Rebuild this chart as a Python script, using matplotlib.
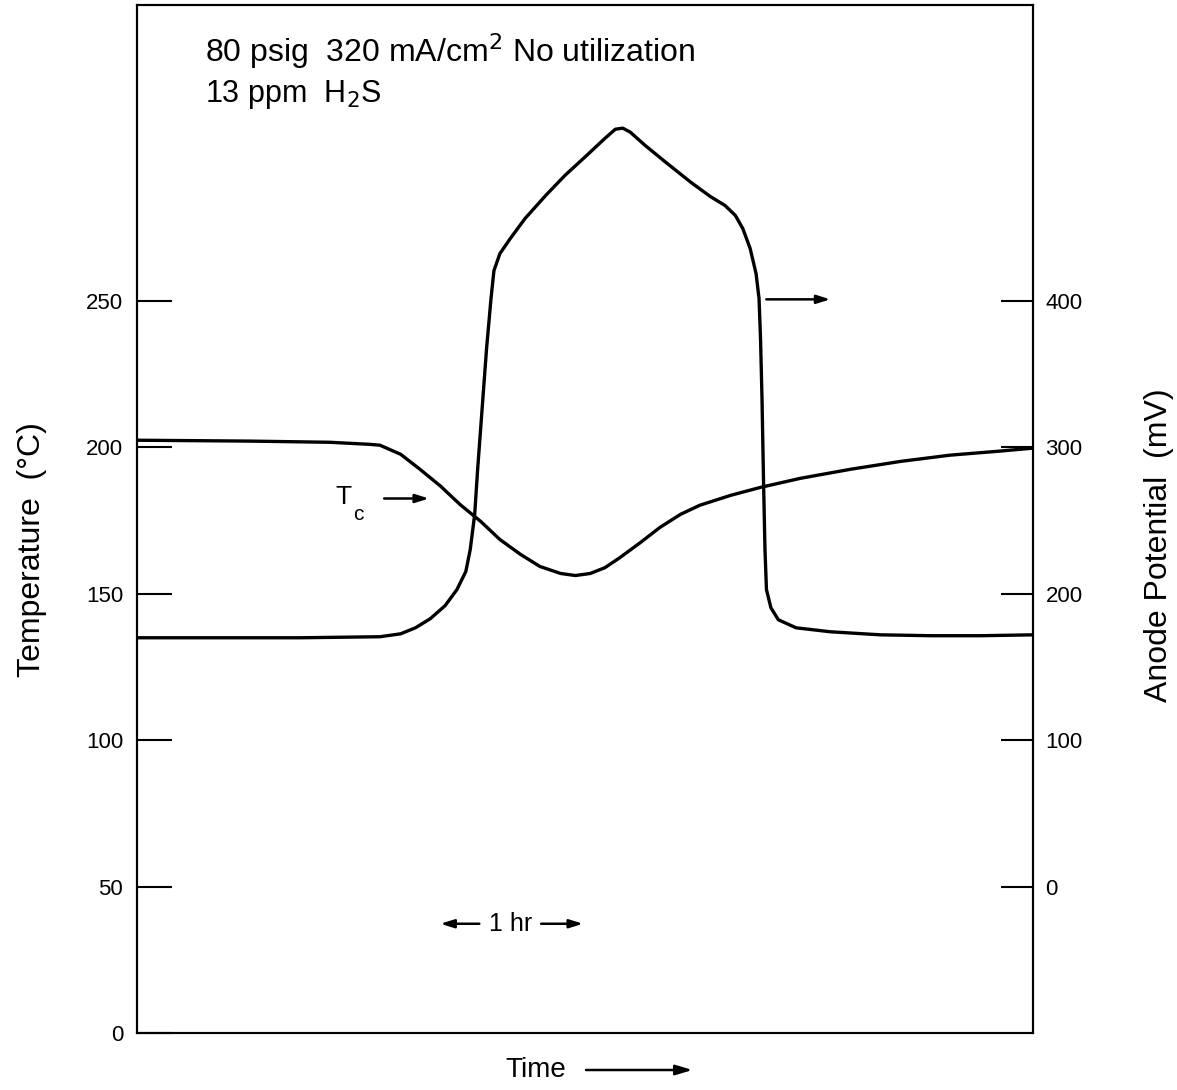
import matplotlib.pyplot as plt

plt.rcParams['font.family'] = ['Liberation Sans', 'DejaVu Sans']

# cell temperature Tc (left axis, deg C), time in hours
t_temp = [0.0, 0.76, 1.30, 1.57, 1.64, 1.78, 1.91, 2.05, 2.18, 2.32, 2.45, 2.59, 2.72,
          2.86, 2.96, 3.06, 3.16, 3.26, 3.40, 3.53, 3.67, 3.80, 4.01, 4.21, 4.48, 4.82,
          5.16, 5.49, 5.83, 6.05]
temp = [202.4, 202.1, 201.7, 201.0, 200.7, 197.6, 192.5, 186.7, 180.5, 174.7, 168.5,
        163.4, 159.3, 156.9, 156.2, 156.9, 158.9, 162.3, 167.5, 172.6, 177.1, 180.2,
        183.6, 186.3, 189.4, 192.5, 195.2, 197.3, 198.7, 199.7]

# anode potential (right axis, mV)
t_pot = [0.0, 1.10, 1.64, 1.78, 1.88, 1.98, 2.08, 2.16, 2.22, 2.25, 2.28, 2.30, 2.33,
         2.36, 2.39, 2.41, 2.45, 2.52, 2.62, 2.76, 2.89, 3.03, 3.16, 3.23, 3.28, 3.33,
         3.43, 3.57, 3.74, 3.87, 3.97, 4.04, 4.09, 4.14, 4.18, 4.20, 4.21, 4.22, 4.23,
         4.24, 4.25, 4.28, 4.33, 4.45, 4.68, 5.02, 5.36, 5.70, 6.05]
pot = [169.9, 169.9, 170.6, 172.6, 176.7, 182.9, 191.8, 202.8, 215.1, 230.2, 254.1,
       285.0, 326.1, 367.2, 401.4, 420.6, 432.2, 442.5, 456.2, 472.0, 485.7, 498.7,
       511.0, 517.2, 517.9, 515.2, 506.2, 494.6, 480.9, 471.3, 465.1, 458.3, 449.4,
       435.7, 418.5, 401.4, 374.0, 332.9, 278.1, 230.2, 202.8, 190.4, 182.2, 176.7,
       174.0, 171.9, 171.3, 171.3, 171.9]

fig = plt.figure(figsize=(11.77, 10.9), dpi=100)
ax = fig.add_axes([0.1164, 0.0523, 0.7613, 0.9431])
ax2 = ax.twinx()

ax.plot(t_temp, temp, color='black', lw=2.4, solid_joinstyle='round')
ax2.plot(t_pot, pot, color='black', lw=2.4, solid_joinstyle='round')

ax.set_xlim(0, 6.05)
ax.set_ylim(0, 351)
ax2.set_ylim(-100, 602)
ax.set_xticks([])
ax.set_yticks([0, 50, 100, 150, 200, 250])
ax2.set_yticks([0, 100, 200, 300, 400])
ax.tick_params(axis='y', direction='in', length=25, width=1.5, pad=10, labelsize=16)
ax2.tick_params(axis='y', direction='in', length=23, width=1.5, pad=9, labelsize=16)
for a in (ax, ax2):
    for s in a.spines.values():
        s.set_linewidth(1.5)

ax.set_ylabel('Temperature  (°C)', fontsize=23)
ax.yaxis.set_label_coords(-0.100, 0.47)
ax2.set_ylabel('Anode Potential  (mV)', fontsize=23)
ax2.yaxis.set_label_coords(1.124, 0.475)

ax.text(0.076, 0.955, '80 psig  320 mA/cm$^2$ No utilization', transform=ax.transAxes,
        fontsize=23, va='center')
ax.text(0.076, 0.913, '13 ppm  H$_2$S', transform=ax.transAxes, fontsize=22, va='center')

arrow = dict(arrowstyle='-|>,head_length=0.8,head_width=0.25', color='black', lw=1.8)

# Tc label and arrow
ax.text(1.45, 183, 'T', fontsize=19, ha='right', va='center')
ax.text(1.46, 177, 'c', fontsize=15, ha='left', va='center')
ax.annotate('', xy=(1.99, 182.5), xytext=(1.65, 182.5), arrowprops=arrow)

# potential arrow
ax2.annotate('', xy=(4.70, 401), xytext=(4.23, 401), arrowprops=arrow)

# 1 hr marker
ax.text(2.52, 37.3, '1 hr', fontsize=18, ha='center', va='center')
ax.annotate('', xy=(2.03, 37.3), xytext=(2.33, 37.3), arrowprops=arrow)
ax.annotate('', xy=(3.03, 37.3), xytext=(2.71, 37.3), arrowprops=arrow)

# time axis label
ax.text(0.445, -0.036, 'Time', transform=ax.transAxes, fontsize=20, ha='center', va='center')
ax.annotate('', xy=(0.623, -0.036), xytext=(0.498, -0.036), xycoords='axes fraction',
            textcoords='axes fraction',
            arrowprops=dict(arrowstyle='-|>,head_length=1.0,head_width=0.3', color='black', lw=1.8))

fig.savefig('out.png', dpi=100)
